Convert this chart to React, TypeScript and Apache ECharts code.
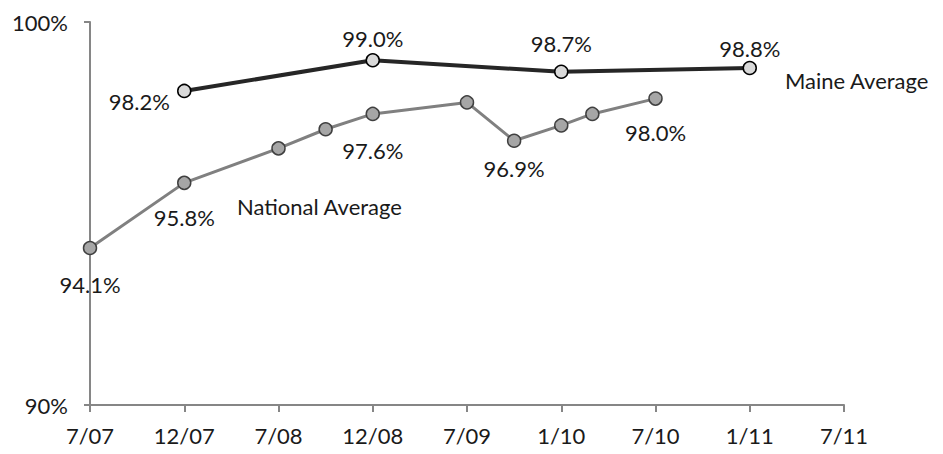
import React, { useEffect, useRef } from "react";
import * as echarts from "echarts";

const tickLabels = ["7/07", "12/07", "7/08", "12/08", "7/09", "1/10", "7/10", "1/11", "7/11"];
// x positions in tick units (0 = 7/07)
const nationalX = [0, 1, 2, 2.5, 3, 4, 4.5, 5, 5.33, 6];
const nationalY = [94.1, 95.8, 96.7, 97.2, 97.6, 97.9, 96.9, 97.3, 97.6, 98.0];
const nationalLabelShown = [true, true, false, false, true, false, true, false, false, true];
const nationalLabelOffsets: [number, number][] = [
  [0, 37], [0, 35], [0, 0], [0, 0], [0, 37], [0, 0], [0, 28], [0, 0], [0, 0], [0, 34],
];
const maineX = [1, 3, 5, 7];
const maineY = [98.2, 99.0, 98.7, 98.8];
const maineLabelOffsets: [number, number][] = [[-45, 11], [0, -22], [0, -28], [0, -19]];

const FONT = "Lato, 'Open Sans', sans-serif";
const FS = 22;

export default function App() {
  const ref = useRef<HTMLDivElement>(null);
  useEffect(() => {
    if (!ref.current) return;
    const chart = echarts.init(ref.current, null, { renderer: "svg" });
    const labelStyle = { fontFamily: FONT, fontSize: FS, color: "#1a1a1a" };
    chart.setOption({
      animation: false,
      grid: { left: 90, right: 99, top: 22, bottom: 49, containLabel: false },
      xAxis: {
        type: "value",
        min: 0,
        max: 8,
        interval: 1,
        axisLine: { show: true, lineStyle: { color: "#868686", width: 2 } },
        axisTick: { show: true, length: 7, lineStyle: { color: "#868686", width: 2 } },
        splitLine: { show: false },
        axisLabel: {
          formatter: (v: number) => tickLabels[Math.round(v)] ?? "",
          fontFamily: FONT,
          fontSize: FS,
          color: "#1a1a1a",
          margin: 19,
        },
      },
      yAxis: {
        type: "value",
        min: 90,
        max: 100,
        interval: 10,
        axisLine: { show: true, lineStyle: { color: "#868686", width: 2 } },
        axisTick: { show: true, length: 6, lineStyle: { color: "#868686", width: 2 } },
        splitLine: { show: false },
        axisLabel: {
          formatter: (v: number) => v + "%",
          fontFamily: FONT,
          fontSize: FS,
          color: "#1a1a1a",
          margin: 22,
        },
      },
      series: [
        {
          type: "line",
          name: "National Average",
          data: nationalX.map((x, i) => ({
            value: [x, nationalY[i]],
            label: {
              show: nationalLabelShown[i],
              position: "inside",
              offset: nationalLabelOffsets[i],
              formatter: nationalY[i].toFixed(1) + "%",
              ...labelStyle,
            },
          })),
          lineStyle: { color: "#808080", width: 3 },
          symbol: "circle",
          symbolSize: 13,
          itemStyle: { color: "#a6a6a6", borderColor: "#404040", borderWidth: 1.5 },
          z: 2,
        },
        {
          type: "line",
          name: "Maine Average",
          data: maineX.map((x, i) => ({
            value: [x, maineY[i]],
            label: {
              show: true,
              position: "inside",
              offset: maineLabelOffsets[i],
              formatter: maineY[i].toFixed(1) + "%",
              ...labelStyle,
            },
          })),
          lineStyle: { color: "#262626", width: 4 },
          symbol: "circle",
          symbolSize: 13,
          itemStyle: { color: "#d9d9d9", borderColor: "#000000", borderWidth: 1.5 },
          z: 3,
        },
      ],
      graphic: [
        {
          type: "text",
          left: 237,
          top: 195,
          style: { text: "National Average", font: `${FS}px ${FONT}`, fill: "#1a1a1a" },
        },
        {
          type: "text",
          left: 785,
          top: 69,
          style: { text: "Maine Average", font: `${FS}px ${FONT}`, fill: "#1a1a1a" },
        },
      ],
    });
    return () => chart.dispose();
  }, []);
  return <div ref={ref} style={{ width: 943, height: 454, position: "absolute", left: 0, top: 0 }} />;
}
